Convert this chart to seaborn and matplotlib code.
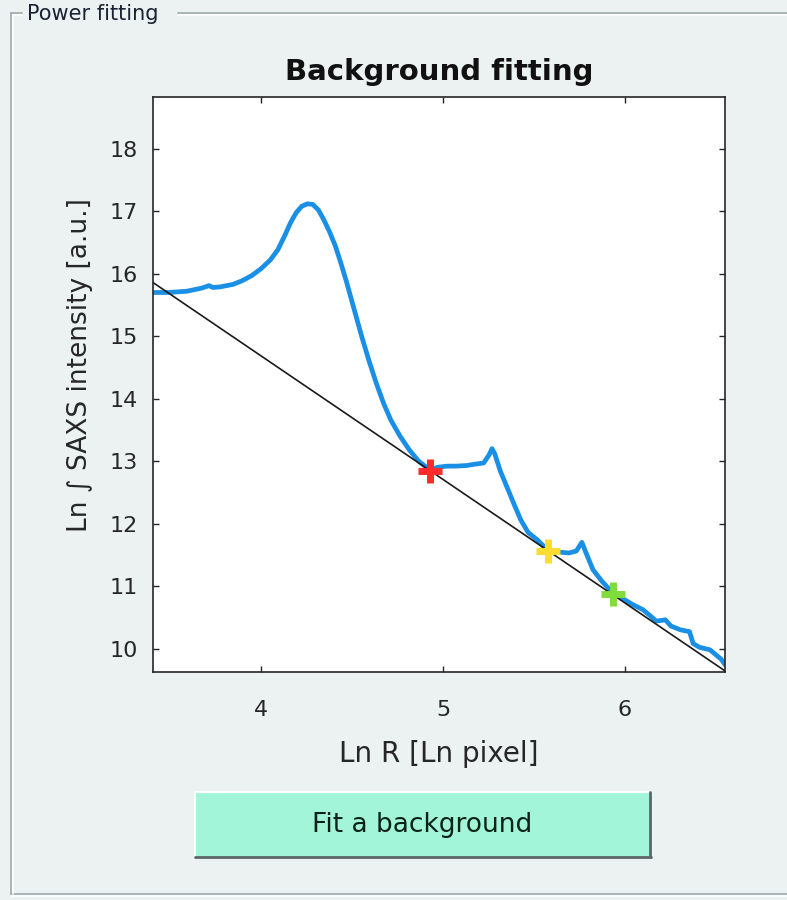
import matplotlib
matplotlib.use("Agg")
import numpy as np
import pandas as pd
import matplotlib.pyplot as plt
import seaborn as sns
from matplotlib.patches import Rectangle
from matplotlib.lines import Line2D

# integrated SAXS profile
ln_r = [3.407, 3.491, 3.592, 3.674, 3.715, 3.735, 3.776, 3.847, 3.898, 3.949,
        4.000, 4.051, 4.092, 4.132, 4.163, 4.194, 4.224, 4.255, 4.285, 4.316,
        4.346, 4.377, 4.408, 4.438, 4.469, 4.510, 4.550, 4.591, 4.632, 4.673,
        4.713, 4.764, 4.815, 4.866, 4.927, 4.968, 5.019, 5.070, 5.131, 5.172,
        5.223, 5.253, 5.269, 5.284, 5.315, 5.345, 5.386, 5.427, 5.467, 5.518,
        5.549, 5.575, 5.610, 5.651, 5.692, 5.732, 5.763, 5.783, 5.824, 5.875,
        5.936, 5.987, 6.038, 6.099, 6.140, 6.170, 6.201, 6.221, 6.252, 6.303,
        6.354, 6.374, 6.408, 6.466, 6.507, 6.528, 6.549]
ln_i = [15.70, 15.70, 15.72, 15.77, 15.81, 15.78, 15.79, 15.83, 15.89, 15.97,
        16.08, 16.22, 16.38, 16.62, 16.82, 16.98, 17.08, 17.12, 17.11, 17.02,
        16.86, 16.67, 16.45, 16.18, 15.88, 15.45, 15.03, 14.63, 14.26, 13.93,
        13.66, 13.40, 13.18, 13.00, 12.86, 12.90, 12.92, 12.92, 12.93, 12.95,
        12.97, 13.10, 13.20, 13.12, 12.84, 12.63, 12.34, 12.06, 11.86, 11.74,
        11.65, 11.56, 11.54, 11.54, 11.53, 11.56, 11.70, 11.55, 11.26, 11.07,
        10.88, 10.80, 10.71, 10.62, 10.52, 10.44, 10.45, 10.46, 10.36, 10.30,
        10.27, 10.08, 10.02, 9.98, 9.88, 9.83, 9.74]

# picked fit points and the background line
pick_x = [4.928, 5.575, 5.935]
pick_y = [12.85, 11.56, 10.88]
pick_colors = ["#ff2b2b", "#ffdc33", "#7fdc3a"]
fit_slope = -1.979
fit_intercept = 22.602

x_lim = [3.407, 6.549]
y_lim = [9.624, 18.83]
x_ticks = [4, 5, 6]
y_ticks = [10, 11, 12, 13, 14, 15, 16, 17, 18]

sns.set_style("ticks")
plt.rcParams["font.family"] = ["DejaVu Sans"]

W, H = 787, 900
bg = "#ecf1f1"
ink = "#262626"


def fx(px):
    return px / W


def fy(py):
    return 1 - py / H


fig = plt.figure(figsize=(W / 100, H / 100), dpi=100)
fig.patch.set_facecolor(bg)

ax = fig.add_axes([fx(153), fy(672), (725 - 153) / W, (672 - 97) / H])
ax.set_facecolor("white")

df = pd.DataFrame({"ln_r": ln_r, "ln_i": ln_i})
sns.lineplot(data=df, x="ln_r", y="ln_i", ax=ax, color="#1a8fe6", lw=3.4,
             sort=False, estimator=None, zorder=2)

fit_x = np.array(x_lim)
sns.lineplot(x=fit_x, y=fit_intercept + fit_slope * fit_x, ax=ax,
             color="#1a1a1a", lw=1.2, zorder=3)

for px_, py_, c in zip(pick_x, pick_y, pick_colors):
    ax.plot(px_, py_, marker="+", ms=17, mew=5, color=c, zorder=4)

ax.set_xlim(x_lim)
ax.set_ylim(y_lim)
ax.set_xticks(x_ticks)
ax.set_yticks(y_ticks)
ax.tick_params(direction="in", length=4, width=1, top=True, right=True,
               colors=ink, labelsize=16)
ax.tick_params(axis="x", pad=20)
ax.tick_params(axis="y", pad=11)
for s in ax.spines.values():
    s.set_color(ink)
    s.set_linewidth(1.2)

ax.set_title("Background fitting", fontsize=21, fontweight="bold",
             color="#111111", pad=12)
ax.set_xlabel("Ln R [Ln pixel]", fontsize=20, color=ink)
ax.set_ylabel("Ln \u222b SAXS intensity [a.u.]", fontsize=19, color=ink)
ax.xaxis.set_label_coords(0.5, (672 - 740) / 575)
ax.yaxis.set_label_coords((93 - 153) / 572, (672 - 365) / 575)

# panel frame (etched look)
for off, col in [(0, "#9eabab"), (1.5, "white")]:
    fig.add_artist(Line2D([fx(11 + off), fx(11 + off)], [fy(13 + off), fy(894)],
                          color=col, lw=1.2))
    fig.add_artist(Line2D([fx(11 + off), fx(22)], [fy(13 + off), fy(13 + off)],
                          color=col, lw=1.2))
    fig.add_artist(Line2D([fx(178), fx(787)], [fy(13 + off), fy(13 + off)],
                          color=col, lw=1.2))
    fig.add_artist(Line2D([fx(11), fx(787)], [fy(894 + off), fy(894 + off)],
                          color=col, lw=1.2))
fig.text(fx(27), fy(20), "Power fitting", fontsize=15, color="#1b2233",
         va="baseline", ha="left")

# push button
fig.add_artist(Rectangle((fx(195), fy(857)), (650 - 195) / W, (857 - 792) / H,
                         transform=fig.transFigure, facecolor="#a2f5d8",
                         edgecolor="none"))
fig.add_artist(Line2D([fx(195), fx(650)], [fy(792), fy(792)], color="white", lw=1.5))
fig.add_artist(Line2D([fx(195), fx(195)], [fy(792), fy(857)], color="white", lw=1.5))
fig.add_artist(Line2D([fx(195), fx(651)], [fy(857), fy(857)], color="#5c6666", lw=2))
fig.add_artist(Line2D([fx(650), fx(650)], [fy(792), fy(857)], color="#5c6666", lw=2))
fig.text(fx(422), fy(825), "Fit a background", fontsize=19, color="#0b2219",
         ha="center", va="center")

fig.savefig("out.png", dpi=100, facecolor=fig.get_facecolor())
